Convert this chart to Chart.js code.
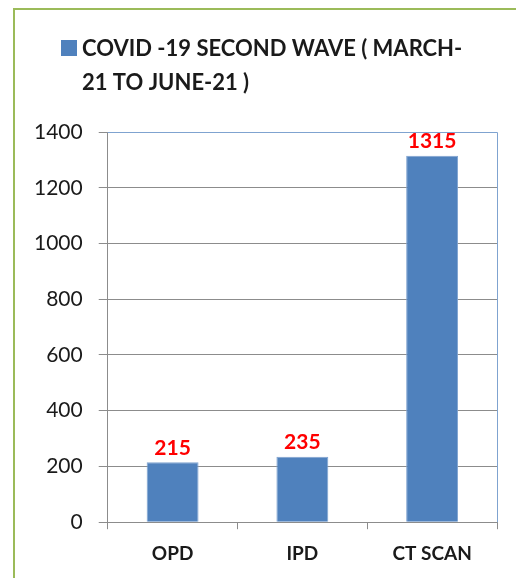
<!DOCTYPE html>
<html>
<head>
<meta charset="utf-8">
<script src="https://cdn.jsdelivr.net/npm/chart.js@4.4.0/dist/chart.umd.min.js"></script>
<style>
  html, body { margin: 0; padding: 0; background: #fff; }
  #wrap { width: 516px; height: 578px; position: relative; }
</style>
</head>
<body>
<div id="wrap"><canvas id="covidChart" width="516" height="578"></canvas></div>
<script>
"use strict";
// данные графика
var categories = ['OPD', 'IPD', 'CT SCAN'];
var seriesName = 'COVID -19 SECOND WAVE ( MARCH-21 TO JUNE-21 )';
var legendLines = ['COVID -19 SECOND WAVE ( MARCH-', '21 TO JUNE-21 )'];
var patients = [215, 235, 1315];
var yTicks = [0, 200, 400, 600, 800, 1000, 1200, 1400];

var FONT = 'Lato, "Open Sans", sans-serif';
var BAR_BLUE = '#4F81BD';

// зелёная рамка, легенда в две строки и синяя рамка области графика
var decorPlugin = {
  id: 'decor',
  beforeDraw: function(chart) {
    var ctx = chart.ctx;
    ctx.save();
    ctx.fillStyle = '#fff';
    ctx.fillRect(0, 0, chart.width, chart.height);
    ctx.strokeStyle = '#9BBB59';
    ctx.lineWidth = 2;
    ctx.strokeRect(14, 9, chart.width + 20, chart.height + 20);
    ctx.restore();
  },
  afterDatasetsDraw: function(chart) {
    var ctx = chart.ctx;
    var area = chart.chartArea;
    ctx.save();
    // рамка сверху и справа
    ctx.strokeStyle = '#7FA3D0';
    ctx.lineWidth = 1;
    ctx.beginPath();
    ctx.moveTo(area.left, area.top + 0.5);
    ctx.lineTo(area.right + 0.5, area.top + 0.5);
    ctx.lineTo(area.right + 0.5, area.bottom);
    ctx.stroke();

    // легенда
    ctx.fillStyle = BAR_BLUE;
    ctx.fillRect(61, 40, 16, 16);
    ctx.fillStyle = '#1a1a1a';
    ctx.font = 'bold 22px ' + FONT;
    ctx.textBaseline = 'alphabetic';
    ctx.textAlign = 'left';
    ctx.fillText(legendLines[0], 82, 56);
    ctx.fillText(legendLines[1], 82, 90);

    // подписи значений
    var meta = chart.getDatasetMeta(0);
    ctx.fillStyle = '#FF0000';
    ctx.font = 'bold 21px ' + FONT;
    ctx.textAlign = 'center';
    ctx.textBaseline = 'bottom';
    meta.data.forEach(function(bar, i) {
      ctx.fillText(String(patients[i]), bar.x, bar.y - 4);
    });
    ctx.restore();
  }
};

var ctx = document.getElementById('covidChart').getContext('2d');
var covidChart = new Chart(ctx, {
  type: 'bar',
  data: {
    labels: categories,
    datasets: [{
      label: seriesName,
      data: patients,
      backgroundColor: BAR_BLUE,
      borderColor: '#7FA3D0',
      borderWidth: 1,
      barPercentage: 0.4,
      categoryPercentage: 1.0
    }]
  },
  options: {
    responsive: false,
    animation: false,
    layout: { padding: { left: 18, right: 19, top: 132, bottom: 0 } },
    plugins: {
      legend: { display: false },
      tooltip: { enabled: false }
    },
    scales: {
      y: {
        min: yTicks[0],
        max: yTicks[yTicks.length - 1],
        afterBuildTicks: function(axis) {
          axis.ticks = yTicks.map(function(v) { return { value: v }; });
        },
        border: { color: '#8C8C8C', width: 1 },
        grid: { color: '#8C8C8C', tickLength: 9, tickColor: '#8C8C8C' },
        ticks: {
          padding: 16,
          color: '#1a1a1a',
          font: { family: FONT, size: 21 },
          callback: function(v) { return String(v); }
        }
      },
      x: {
        border: { color: '#8C8C8C', width: 1 },
        grid: { drawOnChartArea: false, tickLength: 7, color: '#8C8C8C', offset: true },
        ticks: {
          padding: 13,
          color: '#1a1a1a',
          font: { family: FONT, size: 19, weight: 'bold' }
        }
      }
    }
  },
  plugins: [decorPlugin]
});
</script>
</body>
</html>
